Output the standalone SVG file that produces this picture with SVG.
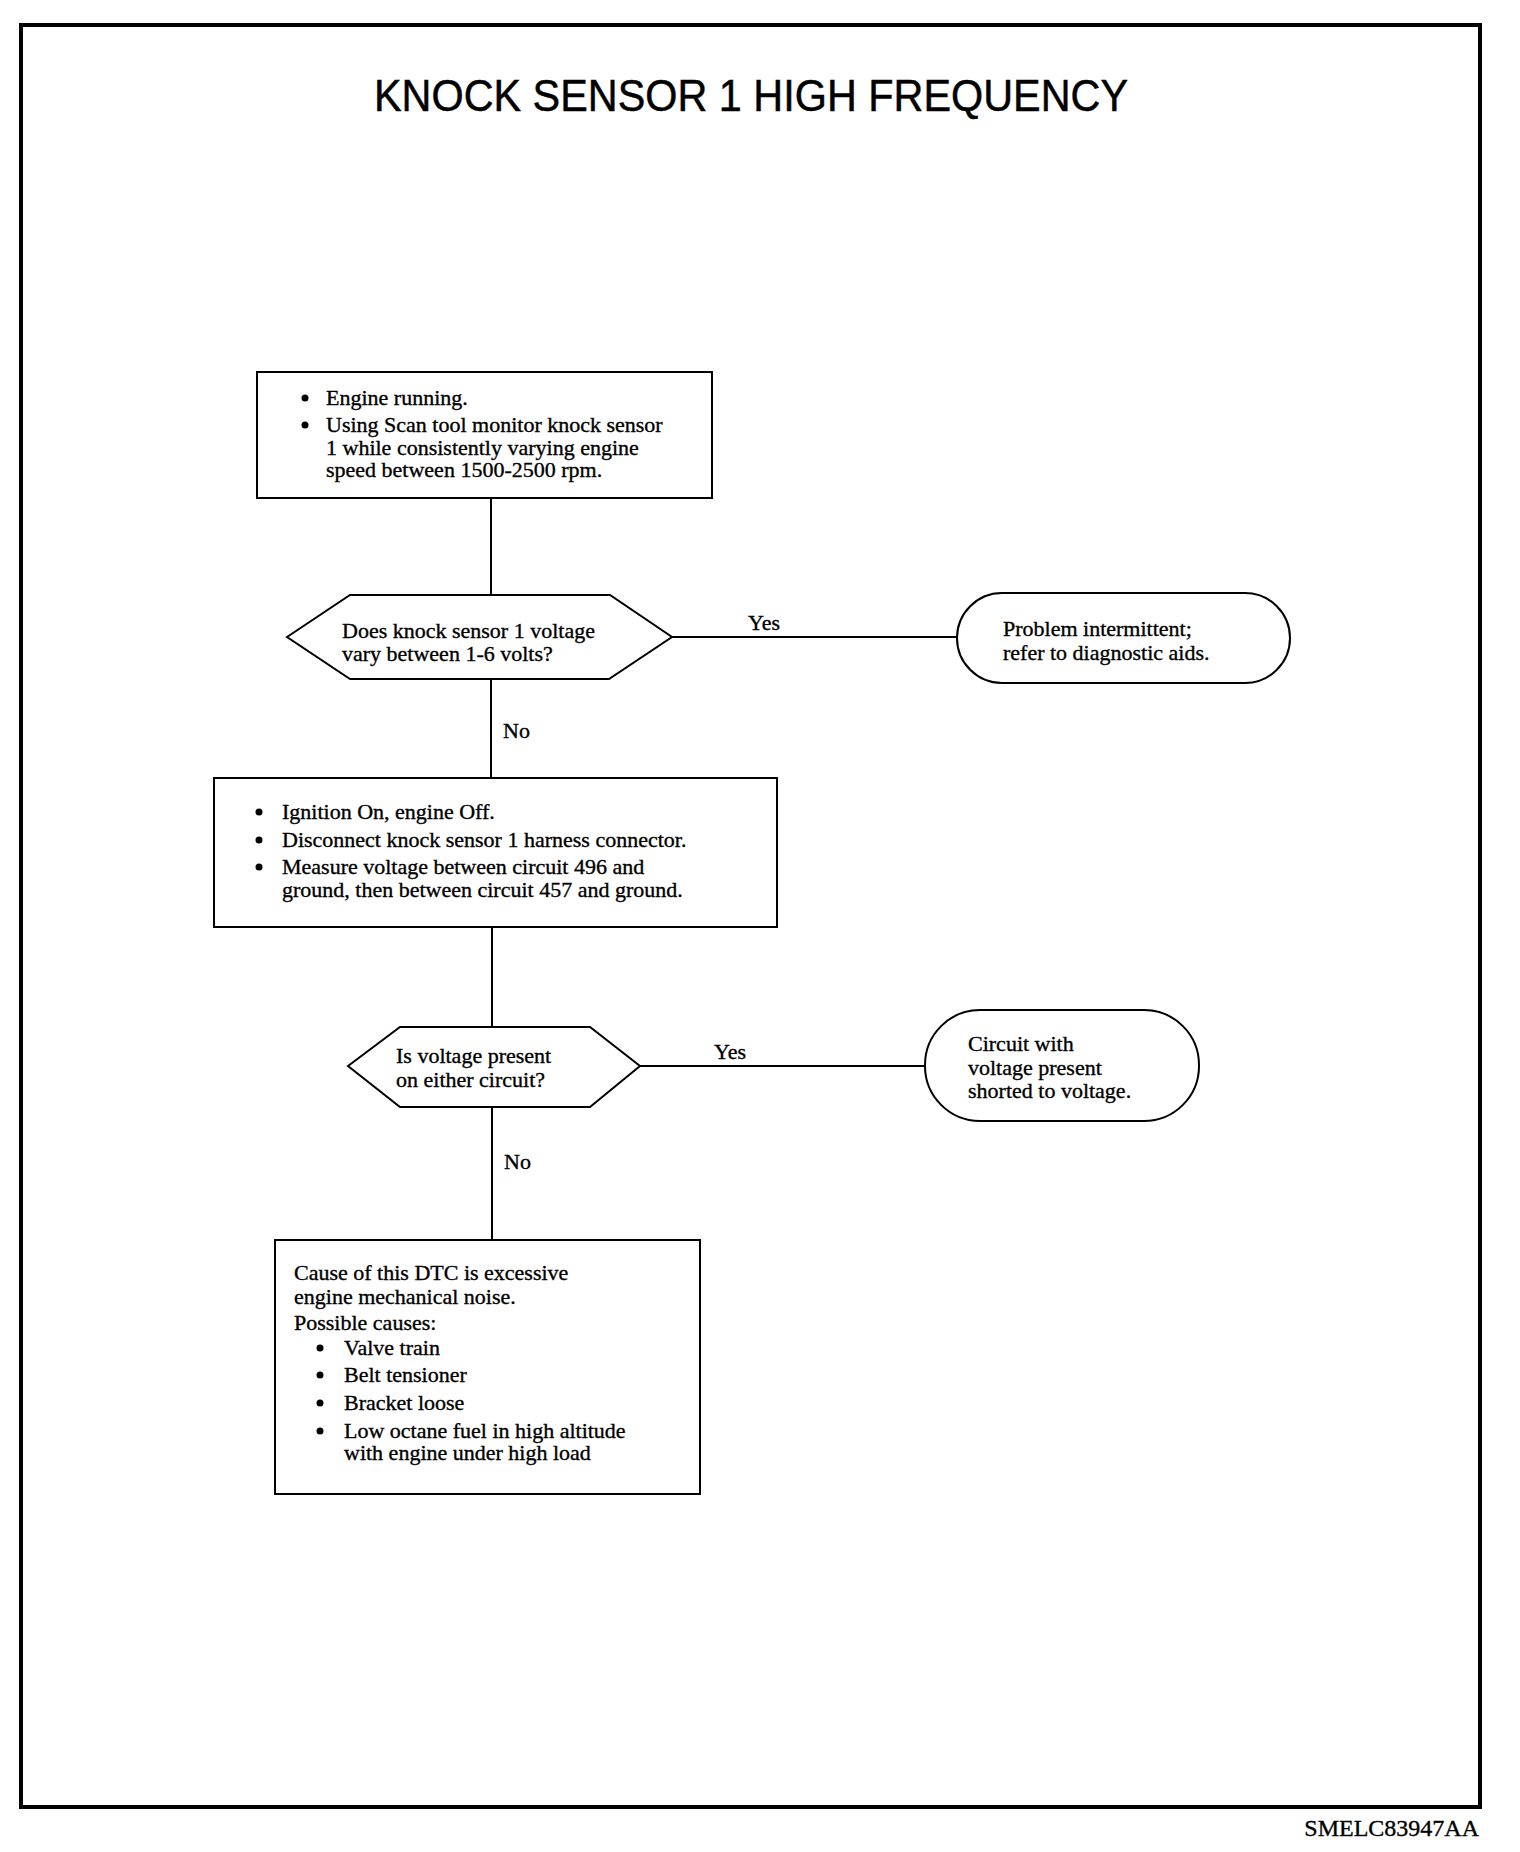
<svg xmlns="http://www.w3.org/2000/svg" width="1520" height="1852" viewBox="0 0 1520 1852">
<style>
.t{font-family:"Liberation Serif","Times New Roman",serif;font-size:22px;fill:#000;stroke:#000;stroke-width:0.35}
.shape{fill:#fff;stroke:#000;stroke-width:2}
.conn{stroke:#000;stroke-width:2;fill:none}
</style>
<rect x="0" y="0" width="1520" height="1852" fill="#fff"/>
<rect x="21" y="25" width="1459" height="1782" fill="none" stroke="#000" stroke-width="4"/>
<text x="751" y="111" text-anchor="middle" font-family="Liberation Sans, Arial, sans-serif" font-size="45" stroke="#000" stroke-width="0.5" textLength="754" lengthAdjust="spacingAndGlyphs">KNOCK SENSOR 1 HIGH FREQUENCY</text>
<g id="connectors">
<line class="conn" x1="491" y1="498" x2="491" y2="595"/>
<line class="conn" x1="491" y1="679" x2="491" y2="778"/>
<line class="conn" x1="672" y1="637" x2="957" y2="637"/>
<line class="conn" x1="492" y1="927" x2="492" y2="1027"/>
<line class="conn" x1="640" y1="1066" x2="925" y2="1066"/>
<line class="conn" x1="492" y1="1107" x2="492" y2="1240"/>
<text class="t" x="748" y="630">Yes</text>
<text class="t" x="503" y="738">No</text>
<text class="t" x="714" y="1059">Yes</text>
<text class="t" x="504" y="1169">No</text>
</g>
<g id="box1">
<rect class="shape" x="257" y="372" width="455" height="126"/>
<circle cx="305" cy="398" r="3.5"/>
<circle cx="305" cy="425" r="3.5"/>
<text class="t" x="326" y="405">Engine running.</text>
<text class="t" x="326" y="432">Using Scan tool monitor knock sensor</text>
<text class="t" x="326" y="455">1 while consistently varying engine</text>
<text class="t" x="326" y="477">speed between 1500-2500 rpm.</text>
</g>
<g id="decision1">
<polygon class="shape" points="287,637 350,595 610,595 672,637 609,679 350,679"/>
<text class="t" x="342" y="638">Does knock sensor 1 voltage</text>
<text class="t" x="342" y="661">vary between 1-6 volts?</text>
</g>
<g id="end1">
<rect class="shape" x="957" y="593" width="333" height="90" rx="45" ry="45"/>
<text class="t" x="1003" y="636">Problem intermittent;</text>
<text class="t" x="1003" y="660">refer to diagnostic aids.</text>
</g>
<g id="box2">
<rect class="shape" x="214" y="778" width="563" height="149"/>
<circle cx="259" cy="812" r="3.5"/>
<circle cx="259" cy="840" r="3.5"/>
<circle cx="259" cy="867" r="3.5"/>
<text class="t" x="282" y="819">Ignition On, engine Off.</text>
<text class="t" x="282" y="847">Disconnect knock sensor 1 harness connector.</text>
<text class="t" x="282" y="874">Measure voltage between circuit 496 and</text>
<text class="t" x="282" y="897">ground, then between circuit 457 and ground.</text>
</g>
<g id="decision2">
<polygon class="shape" points="348,1066 400,1027 590,1027 640,1066 590,1107 400,1107"/>
<text class="t" x="396" y="1063">Is voltage present</text>
<text class="t" x="396" y="1087">on either circuit?</text>
</g>
<g id="end2">
<rect class="shape" x="925" y="1010" width="274" height="111" rx="55" ry="55"/>
<text class="t" x="968" y="1051">Circuit with</text>
<text class="t" x="968" y="1075">voltage present</text>
<text class="t" x="968" y="1098">shorted to voltage.</text>
</g>
<g id="box3">
<rect class="shape" x="275" y="1240" width="425" height="254"/>
<text class="t" x="294" y="1280">Cause of this DTC is excessive</text>
<text class="t" x="294" y="1304">engine mechanical noise.</text>
<text class="t" x="294" y="1330">Possible causes:</text>
<circle cx="320" cy="1348" r="3.5"/>
<circle cx="320" cy="1375" r="3.5"/>
<circle cx="320" cy="1403" r="3.5"/>
<circle cx="320" cy="1431" r="3.5"/>
<text class="t" x="344" y="1355">Valve train</text>
<text class="t" x="344" y="1382">Belt tensioner</text>
<text class="t" x="344" y="1410">Bracket loose</text>
<text class="t" x="344" y="1438">Low octane fuel in high altitude</text>
<text class="t" x="344" y="1460">with engine under high load</text>
</g>
<text class="t" x="1479" y="1836" text-anchor="end" style="font-size:24px">SMELC83947AA</text>
</svg>
